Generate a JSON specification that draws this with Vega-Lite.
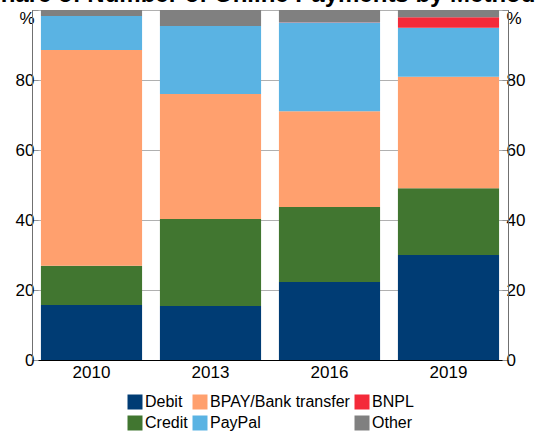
{
  "$schema": "https://vega.github.io/schema/vega-lite/v6.json",
  "width": 476,
  "height": 350,
  "autosize": "none",
  "padding": {"left": 32, "top": 10, "right": 31, "bottom": 73},
  "background": "white",
  "title": {
    "text": "Share of Number of Online Payments by Method",
    "font": "Liberation Sans",
    "fontSize": 24,
    "fontWeight": "bold",
    "color": "black",
    "anchor": "middle",
    "offset": 0,
    "dy": -2,
    "dx": -10
  },
  "config": {
    "font": "Liberation Sans",
    "view": {"stroke": "black", "strokeWidth": 1},
    "axis": {"labelFont": "Liberation Sans", "labelColor": "black", "labelFontSize": 17}
  },
  "data": {
    "values": [
      {"year": "2010", "method": "Debit", "share": 15.7, "rank": 1},
      {"year": "2010", "method": "Credit", "share": 11.2, "rank": 2},
      {"year": "2010", "method": "BPAY/Bank transfer", "share": 61.7, "rank": 3},
      {"year": "2010", "method": "PayPal", "share": 9.7, "rank": 4},
      {"year": "2010", "method": "BNPL", "share": 0, "rank": 5},
      {"year": "2010", "method": "Other", "share": 1.7, "rank": 6},
      {"year": "2013", "method": "Debit", "share": 15.4, "rank": 1},
      {"year": "2013", "method": "Credit", "share": 24.9, "rank": 2},
      {"year": "2013", "method": "BPAY/Bank transfer", "share": 35.7, "rank": 3},
      {"year": "2013", "method": "PayPal", "share": 19.4, "rank": 4},
      {"year": "2013", "method": "BNPL", "share": 0, "rank": 5},
      {"year": "2013", "method": "Other", "share": 4.6, "rank": 6},
      {"year": "2016", "method": "Debit", "share": 22.3, "rank": 1},
      {"year": "2016", "method": "Credit", "share": 21.4, "rank": 2},
      {"year": "2016", "method": "BPAY/Bank transfer", "share": 27.4, "rank": 3},
      {"year": "2016", "method": "PayPal", "share": 25.3, "rank": 4},
      {"year": "2016", "method": "BNPL", "share": 0.1, "rank": 5},
      {"year": "2016", "method": "Other", "share": 3.5, "rank": 6},
      {"year": "2019", "method": "Debit", "share": 30.0, "rank": 1},
      {"year": "2019", "method": "Credit", "share": 19.1, "rank": 2},
      {"year": "2019", "method": "BPAY/Bank transfer", "share": 31.8, "rank": 3},
      {"year": "2019", "method": "PayPal", "share": 14.0, "rank": 4},
      {"year": "2019", "method": "BNPL", "share": 3.0, "rank": 5},
      {"year": "2019", "method": "Other", "share": 2.1, "rank": 6}
    ]
  },
  "layer": [
    {
      "mark": {"type": "bar"},
      "encoding": {
        "x": {
          "field": "year",
          "type": "ordinal",
          "scale": {"paddingInner": 0.15, "paddingOuter": 0.075},
          "axis": {
            "title": null,
            "labelAngle": 0,
            "labelPadding": 4,
            "domain": true,
            "domainColor": "black",
            "ticks": false
          }
        },
        "y": {
          "field": "share",
          "type": "quantitative",
          "stack": "zero",
          "scale": {"domain": [0, 100], "nice": false},
          "axis": {
            "title": null,
            "values": [0, 20, 40, 60, 80, 100],
            "labelExpr": "datum.value == 100 ? '%' : datum.label",
            "labelBaseline": {"condition": {"test": "datum.value == 100", "value": "top"}, "value": "middle"},
            "grid": true,
            "gridColor": "#b0b0b0",
            "gridOpacity": 1,
            "domainColor": "#707070",
            "tickColor": "#909090",
            "tickSize": -6,
            "labelPadding": 4
          }
        },
        "color": {
          "field": "method",
          "type": "nominal",
          "scale": {
            "domain": ["Debit", "BPAY/Bank transfer", "BNPL", "Credit", "PayPal", "Other"],
            "range": ["#003C74", "#FFA06E", "#F42A39", "#417630", "#5AB3E3", "#808080"]
          },
          "legend": {
            "title": null,
            "orient": "none",
            "legendX": 95,
            "legendY": 384,
            "direction": "horizontal",
            "columns": 3,
            "symbolType": "square",
            "symbolSize": 225,
            "symbolStrokeWidth": 0,
            "symbolOpacity": 1,
            "labelFontSize": 16,
            "labelFont": "Liberation Sans",
            "labelColor": "black",
            "labelOffset": 2,
            "columnPadding": 4,
            "rowPadding": 5
          }
        },
        "order": {"field": "rank", "type": "quantitative"}
      }
    },
    {
      "mark": {"type": "rule", "color": "white", "opacity": 0},
      "encoding": {
        "y": {
          "field": "share",
          "type": "quantitative",
          "aggregate": "max",
          "scale": {"domain": [0, 100], "nice": false},
          "axis": {
            "orient": "right",
            "title": null,
            "values": [0, 20, 40, 60, 80, 100],
            "labelExpr": "datum.value == 100 ? '%' : datum.label",
            "labelBaseline": {"condition": {"test": "datum.value == 100", "value": "top"}, "value": "middle"},
            "grid": false,
            "domainColor": "#707070",
            "tickColor": "#909090",
            "tickSize": -6,
            "labelPadding": 4
          }
        }
      }
    }
  ],
  "resolve": {"scale": {"y": "shared"}, "axis": {"y": "independent"}}
}
